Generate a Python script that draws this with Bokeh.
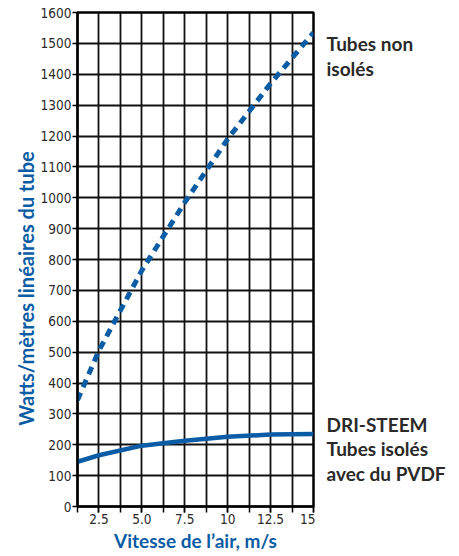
import math
from bokeh.plotting import figure
from bokeh.layouts import row
from bokeh.models import Range1d, FixedTicker
from bokeh.core.properties import value
from bokeh.embed import file_html
from bokeh.resources import INLINE

# Data
speed_non = [1.25, 2.5, 5.0, 7.5, 10.0, 12.5, 15.0]
watts_non = [345, 505, 765, 985, 1190, 1370, 1535]
speed_iso = [1.25, 2.5, 5.0, 7.5, 10.0, 12.5, 15.0]
watts_iso = [145, 166, 197, 213, 226, 233, 235]

x_ticks = [2.5, 5.0, 7.5, 10.0, 12.5, 15.0]
x_tick_labels = ["2.5", "5.0", "7.5", "10", "12.5", "15"]
x_grid = [1.25 * i for i in range(1, 13)]
y_ticks = list(range(0, 1601, 100))

# Side labels (text lines, with their baseline heights on the watts scale)
label_lines = ["Tubes non", "isol\u00e9s", "DRI-STEEM", "Tubes isol\u00e9s", "avec du PVDF"]
label_y = [1477, 1396, 243, 165, 84]

y_title = "Watts/m\u00e8tres lin\u00e9aires du tube"
x_title = "Vitesse de l\u2019air, m/s"

BLUE = "#0a5ca4"
DARK = "#2b2a29"
TICK_FONT = "DejaVu Sans Condensed"
LABEL_FONT = "Lato"

yr = Range1d(0, 1600)
H = 556
TOP, BOTTOM = 12, 50

# Left panel: vertical axis title
lp = figure(width=37, height=H, output_backend="svg", toolbar_location=None,
            x_range=Range1d(0, 37), y_range=yr,
            min_border_left=0, min_border_right=0, min_border_top=TOP, min_border_bottom=BOTTOM)
lp.axis.visible = False
lp.grid.visible = False
lp.outline_line_color = None
lp.text(x=[25], y=[706], text=[y_title], angle=math.pi / 2,
        text_align="center", text_baseline="middle",
        text_font=value(LABEL_FONT), text_font_style="bold", text_font_size="20px",
        text_color=BLUE)

p = figure(width=278, height=H, output_backend="svg", toolbar_location=None,
           x_range=Range1d(1.25, 15), y_range=yr,
           min_border_left=36, min_border_right=2, min_border_top=TOP, min_border_bottom=BOTTOM)

p.background_fill_color = "white"
p.border_fill_color = "white"
p.outline_line_color = "black"
p.outline_line_width = 2.5

p.xaxis.ticker = FixedTicker(ticks=x_ticks, minor_ticks=x_grid)
p.xaxis.major_label_overrides = {t: l for t, l in zip(x_ticks, x_tick_labels)}
p.yaxis.ticker = FixedTicker(ticks=y_ticks)
p.xgrid.ticker = FixedTicker(ticks=x_grid)
p.ygrid.ticker = FixedTicker(ticks=y_ticks)
for g in (p.xgrid, p.ygrid):
    g.grid_line_color = "#111111"
    g.grid_line_width = 1.8
    g.grid_line_alpha = 1.0

for ax in (p.xaxis, p.yaxis):
    ax.axis_line_color = "black"
    ax.axis_line_width = 2
    ax.major_tick_line_color = "black"
    ax.major_tick_line_width = 1.5
    ax.minor_tick_line_color = "black"
    ax.minor_tick_line_width = 1.5
    ax.major_tick_in = 0
    ax.minor_tick_in = 0
    ax.major_label_text_font = TICK_FONT
    ax.major_label_text_font_size = "13.5px"
    ax.major_label_text_color = DARK

p.xaxis.major_tick_out = 6
p.xaxis.minor_tick_out = 6
p.xaxis.major_label_standoff = 1
p.xaxis.axis_label = x_title
p.xaxis.axis_label_standoff = 2
p.xaxis.axis_label_text_font = LABEL_FONT
p.xaxis.axis_label_text_font_style = "bold"
p.xaxis.axis_label_text_font_size = "19px"
p.xaxis.axis_label_text_color = BLUE
p.yaxis.major_tick_out = 5
p.yaxis.minor_tick_out = 0
p.yaxis.major_label_standoff = 1

p.line(speed_non, watts_non, line_color=BLUE, line_width=5, line_dash="8 6")
p.line(speed_iso, watts_iso, line_color=BLUE, line_width=4.5)

# Right panel with the curve labels, sharing the watts scale
q = figure(width=144, height=H, output_backend="svg", toolbar_location=None,
           x_range=Range1d(0, 1), y_range=yr,
           min_border_left=0, min_border_right=0, min_border_top=TOP, min_border_bottom=BOTTOM)
q.axis.visible = False
q.grid.visible = False
q.outline_line_color = None
q.text(x=[0] * len(label_lines), y=label_y, text=label_lines, x_offset=11, y_offset=-7,
       text_font=value(LABEL_FONT), text_font_style="bold", text_font_size="19px",
       text_color=DARK, text_baseline="alphabetic")

layout = row(lp, p, q, spacing=0)
open("out.html", "w").write(file_html(layout, INLINE))
